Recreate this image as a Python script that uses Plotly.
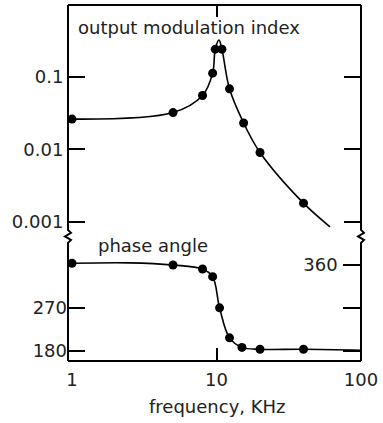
import plotly.graph_objects as go

# ---- data ----
mod_freq = [1, 5, 8, 9.4, 9.8, 10.9, 12.3, 15.4, 20, 40]
mod_index = [0.026, 0.032, 0.055, 0.112, 0.24, 0.24, 0.068, 0.023, 0.009, 0.0018]
mod_curve_freq = [1, 5, 8, 9.4, 9.8, 10.4, 10.9, 12.3, 15.4, 20, 40, 61]
mod_curve_val = [0.026, 0.032, 0.055, 0.112, 0.24, 0.32, 0.24, 0.068, 0.023, 0.009, 0.0018, 0.00085]

ph_freq = [1, 5, 8, 9.4, 10.5, 12.3, 15, 20, 40]
ph_deg = [363.6, 360, 351.6, 335.5, 270, 207, 187, 183, 183]
ph_curve_freq = [1, 2.5, 5, 8, 9.4, 10.5, 12.3, 15, 20, 40, 100]
ph_curve_deg = [363.6, 364.5, 360, 351.6, 335.5, 270, 207, 187, 183, 183, 181]

x_tick_vals = [1, 10, 100]
x_tick_text = ["1", "10", "100"]
mod_tick_vals = [0.001, 0.01, 0.1]
mod_tick_text = ["0.001", "0.01", "0.1"]
ph_left_vals = [180, 270]
ph_left_text = ["180", "270"]
ph_right_vals = [180, 270, 360]
ph_right_text = ["", "", "360"]

FONT = "DejaVu Sans"
FS = 18
W, H = 383, 423
ML, MR, MT, MB = 68, 20, 5, 62
PW, PH = W - ML - MR, H - MT - MB
SPLIT = 0.35

fig = go.Figure()
fig.add_trace(go.Scatter(x=mod_curve_freq, y=mod_curve_val, mode="lines",
                         line=dict(color="black", width=1.6, shape="spline", smoothing=1.0),
                         xaxis="x2", yaxis="y", hoverinfo="skip"))
fig.add_trace(go.Scatter(x=mod_freq, y=mod_index, mode="markers",
                         marker=dict(color="black", size=9), xaxis="x2", yaxis="y"))
fig.add_trace(go.Scatter(x=ph_curve_freq, y=ph_curve_deg, mode="lines",
                         line=dict(color="black", width=1.6, shape="spline", smoothing=1.0),
                         xaxis="x", yaxis="y2", hoverinfo="skip"))
fig.add_trace(go.Scatter(x=ph_freq, y=ph_deg, mode="markers",
                         marker=dict(color="black", size=9), xaxis="x", yaxis="y2"))
# invisible trace so the right-hand phase axis is drawn
fig.add_trace(go.Scatter(x=ph_freq, y=ph_deg, mode="markers",
                         marker=dict(color="rgba(0,0,0,0)", size=1), xaxis="x", yaxis="y3",
                         hoverinfo="skip"))


def px2paper(px, py):
    return ((px - ML) / PW, (H - MB - py) / PH)


def path(points):
    s = ""
    for i, (px, py) in enumerate(points):
        x, y = px2paper(px, py)
        s += ("M" if i == 0 else "L") + f"{x:.5f},{y:.5f} "
    return s


yb = H - MB - SPLIT * PH
L, R, T, B = ML, W - MR, MT, H - MB


def side(xc):
    return [(xc, B), (xc, yb + 6.5), (xc + 3, yb + 3.5), (xc - 3, yb), (xc + 3, yb - 3.5),
            (xc, yb - 6.5), (xc, T)]


shapes = [
    dict(type="path", xref="paper", yref="paper", path=path(side(L)),
         line=dict(color="black", width=2)),
    dict(type="path", xref="paper", yref="paper", path=path(side(R)),
         line=dict(color="black", width=2)),
    dict(type="path", xref="paper", yref="paper", path=path([(L, T), (R, T)]),
         line=dict(color="black", width=2)),
    dict(type="path", xref="paper", yref="paper", path=path([(L, B), (R, B)]),
         line=dict(color="black", width=2)),
]

tickfont = dict(family=FONT, size=FS, color="#222")

fig.update_layout(
    width=W, height=H, margin=dict(l=ML, r=MR, t=MT, b=MB),
    paper_bgcolor="white", plot_bgcolor="white", showlegend=False,
    font=dict(family=FONT, size=FS, color="#222"),
    shapes=shapes,
    xaxis=dict(type="log", range=[-0.028, 2.0], domain=[0, 1], anchor="y2",
               tickmode="array", tickvals=x_tick_vals, ticktext=x_tick_text,
               ticks="", showgrid=False, zeroline=False, showline=False,
               tickfont=tickfont, ticklabelstandoff=6, ticklabeloverflow="allow",
               minor=dict(tickmode="array", tickvals=[10], ticks="inside", ticklen=13,
                          tickwidth=2, tickcolor="black", showgrid=False)),
    xaxis2=dict(type="log", range=[-0.028, 2.0], domain=[0, 1], anchor="y", side="top",
                matches="x", tickmode="array", tickvals=[10], ticks="inside", ticklen=12,
                tickwidth=2, tickcolor="black", showticklabels=False, showgrid=False,
                zeroline=False, showline=False),
    yaxis=dict(type="log", range=[-3.203, -0.011], domain=[SPLIT, 1], anchor="x2",
               tickmode="array", tickvals=mod_tick_vals, ticktext=mod_tick_text,
               ticks="inside", ticklen=17, tickwidth=2, tickcolor="black",
               showline=True, linecolor="rgba(0,0,0,0)", mirror="ticks",
               showgrid=False, zeroline=False, tickfont=tickfont),
    yaxis2=dict(range=[158.4, 420.1], domain=[0, SPLIT], anchor="x",
                tickmode="array", tickvals=ph_left_vals, ticktext=ph_left_text,
                ticks="inside", ticklen=17, tickwidth=2, tickcolor="black",
                showline=False, showgrid=False, zeroline=False, tickfont=tickfont),
    yaxis3=dict(range=[158.4, 420.1], domain=[0, SPLIT], overlaying="y2", side="right",
                anchor="x", tickmode="array", tickvals=ph_right_vals, ticktext=ph_right_text,
                ticks="inside", ticklen=18, tickwidth=2, tickcolor="black",
                ticklabelposition="inside", ticklabelstandoff=6, ticklabeloverflow="allow",
                showline=False, showgrid=False, zeroline=False, tickfont=tickfont),
)

ax, ay = px2paper(76, 27)
fig.add_annotation(x=ax, y=ay, xref="paper", yref="paper", text="output modulation index",
                   showarrow=False, xanchor="left", yanchor="middle", font=dict(family=FONT, size=FS, color="#222"))
ax, ay = px2paper(95.7, 245)
fig.add_annotation(x=ax, y=ay, xref="paper", yref="paper", text="phase angle",
                   showarrow=False, xanchor="left", yanchor="middle", font=dict(family=FONT, size=FS, color="#222"))
ax, ay = px2paper(219, 406.7)
fig.add_annotation(x=ax, y=ay, xref="paper", yref="paper", text="frequency, KHz",
                   showarrow=False, xanchor="center", yanchor="middle", font=dict(family=FONT, size=FS, color="#222"))

fig.write_html("out.html")
